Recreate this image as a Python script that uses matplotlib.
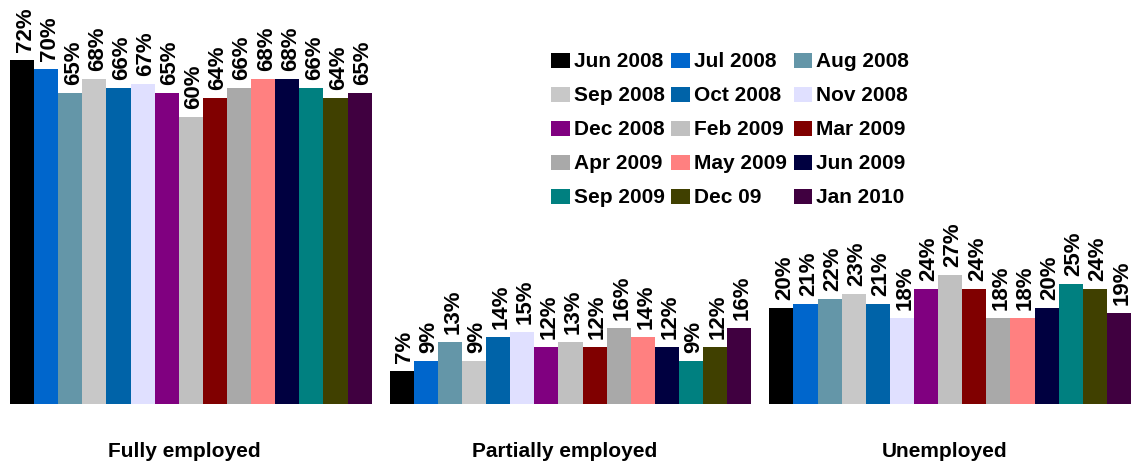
import numpy as np
import matplotlib.pyplot as plt
from matplotlib.patches import Patch
import matplotlib.transforms as mtransforms

plt.rcParams['font.family'] = ['Liberation Sans', 'DejaVu Sans']
plt.rcParams['font.weight'] = 'bold'

groups = ['Fully employed', 'Partially employed', 'Unemployed']
periods = ['Jun 2008', 'Jul 2008', 'Aug 2008', 'Sep 2008', 'Oct 2008',
           'Nov 2008', 'Dec 2008', 'Feb 2009', 'Mar 2009', 'Apr 2009',
           'May 2009', 'Jun 2009', 'Sep 2009', 'Dec 09', 'Jan 2010']
colors = ['#000000', '#0066CC', '#6496A8', '#C8C8C8', '#0063A8',
          '#E0E0FF', '#800080', '#C0C0C0', '#800000', '#A9A9A9',
          '#FF8080', '#000040', '#008080', '#404000', '#400040']

fully = [72, 70, 65, 68, 66, 67, 65, 60, 64, 66, 68, 68, 66, 64, 65]
partially = [7, 9, 13, 9, 14, 15, 12, 13, 12, 16, 14, 12, 9, 12, 16]
unemployed = [20, 21, 22, 23, 21, 18, 24, 27, 24, 18, 18, 20, 25, 24, 19]

values = np.array([fully, partially, unemployed])
n = len(periods)
gap = 0.75

fig = plt.figure(figsize=(11.32, 4.66), dpi=100)
ax = fig.add_axes([10 / 1132, 62 / 466, 1121 / 1132, 404 / 466])

label_shift = mtransforms.offset_copy(ax.transData, fig=fig, x=3, y=8, units='dots')
group_shift = mtransforms.offset_copy(ax.transData, fig=fig, x=-6, y=0, units='dots')
for g in range(len(groups)):
    x0 = g * (n + gap)
    xs = x0 + np.arange(n) + 0.5
    ax.bar(xs, values[g], width=1.0, color=colors, edgecolor='none')
    for x, v in zip(xs, values[g]):
        ax.text(x, v, f'{v}%', rotation=90, ha='center', va='bottom',
                fontsize=16, fontweight='bold', transform=label_shift)
    ax.text(x0 + n / 2, -10, groups[g], ha='center', va='center',
            fontsize=15, fontweight='bold', transform=group_shift)

ax.set_xlim(0, 3 * n + 2 * gap)
ax.set_ylim(0, 84.5)
ax.axis('off')

handles = [Patch(facecolor=c, edgecolor='none') for c in colors]
# legend reads row by row, matplotlib fills columns first
order = [r * 3 + c for c in range(3) for r in range(5)]
fig.legend([handles[i] for i in order], [periods[i] for i in order],
           ncol=3, loc='upper left', bbox_to_anchor=(541 / 1132, 1 - 42 / 466),
           frameon=False, fontsize=15, handlelength=0.9, handleheight=0.75,
           handletextpad=0.2, columnspacing=0.3, labelspacing=0.72,
           borderpad=0)

fig.savefig('out.png', dpi=100)
